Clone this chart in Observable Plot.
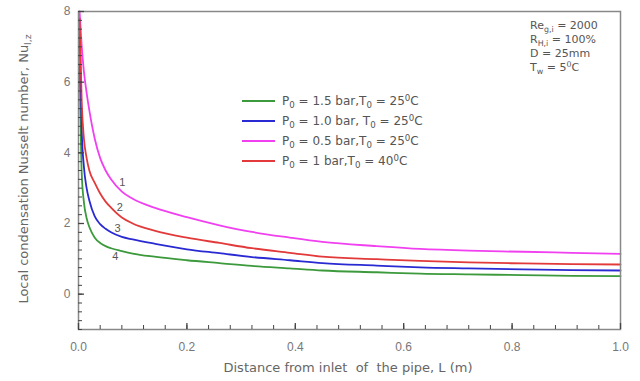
<!DOCTYPE html>
<html><head><meta charset="utf-8">
<script src="https://cdn.jsdelivr.net/npm/d3@7"></script>
<script src="https://cdn.jsdelivr.net/npm/@observablehq/plot@0.6"></script>
<style>body{margin:0;background:#fff;} #chart{width:640px;height:381px;}</style>
</head><body><div id="chart"></div>
<script>
// Distance from inlet L (m)
const L = [0.002, 0.006, 0.01, 0.015, 0.02, 0.03, 0.04, 0.05, 0.06, 0.08, 0.1, 0.14, 0.2, 0.26, 0.32, 0.39, 0.45, 0.55, 0.63, 0.72, 0.82, 0.91, 1.0];
// Local condensation Nusselt number per case
const nuP15 = [6.5, 3.4, 2.6, 2.15, 1.9, 1.6, 1.45, 1.36, 1.3, 1.22, 1.15, 1.06, 0.96, 0.88, 0.8, 0.73, 0.67, 0.62, 0.58, 0.56, 0.54, 0.52, 0.51];   // curve 4
const nuP10 = [7.5, 4.6, 3.6, 3.0, 2.65, 2.2, 1.98, 1.85, 1.75, 1.62, 1.55, 1.43, 1.27, 1.16, 1.05, 0.96, 0.88, 0.81, 0.76, 0.73, 0.7, 0.68, 0.67];   // curve 3
const nuP05 = [8.0, 7.0, 6.3, 5.7, 5.2, 4.4, 3.85, 3.5, 3.25, 2.9, 2.7, 2.45, 2.18, 1.95, 1.76, 1.6, 1.48, 1.36, 1.28, 1.23, 1.2, 1.17, 1.14];      // curve 1
const nuP1T40 = [7.8, 5.4, 4.4, 3.85, 3.5, 3.15, 2.85, 2.62, 2.45, 2.17, 2.0, 1.8, 1.6, 1.45, 1.3, 1.17, 1.06, 0.99, 0.94, 0.9, 0.87, 0.85, 0.84]; // curve 2

const seriesKeys = ["p15", "p10", "p05", "p1t40"];
const seriesColors = ["#3c9a3c", "#2a2ad2", "#f040f0", "#e23a3a"];
const legendP = ["1.5", "1.0", "0.5", "1"];
const legendSep = [",", ", ", ",", ","];
const legendT = ["25", "25", "25", "40"];

const xTicks = [0, 0.2, 0.4, 0.6, 0.8, 1.0];
const yTicks = [0, 2, 4, 6, 8];

const curveLabels = ["1", "2", "3", "4"];
const curveLabelL = [0.081, 0.076, 0.072, 0.068];
const curveLabelNu = [3.15, 2.44, 1.87, 1.08];

const seriesValues = [nuP15, nuP10, nuP05, nuP1T40];
const rows = [];
seriesKeys.forEach((k, s) => L.forEach((l, i) => rows.push({key: k, L: l, nu: seriesValues[s][i]})));

const W = 640, H = 381, mL = 78, mR = 20, mT = 11, mB = 52;
const plotW = W - mL - mR, plotH = H - mT - mB;
const xMinor = d3.range(0, 1.0001, 0.04);
const yMinor = d3.range(-1, 8.0001, 0.25);

const chart = Plot.plot({
  width: W, height: H,
  marginLeft: mL, marginRight: mR, marginTop: mT, marginBottom: mB,
  style: {fontFamily: "'Liberation Sans', Arial, sans-serif", fontSize: "12px", color: "#777", background: "#fff"},
  x: {domain: [0, 1]},
  y: {domain: [-1, 8]},
  color: {domain: seriesKeys, range: seriesColors},
  marks: [
    Plot.line(rows, {x: "L", y: "nu", z: "key", stroke: "key", strokeWidth: 1.8, curve: "monotone-x"}),
    Plot.frame({stroke: "#888", strokeWidth: 1.5}),
    Plot.tickX(xMinor, {x: d => d, stroke: "#444", strokeWidth: 1, insetTop: plotH - 4}),
    Plot.tickX(xTicks, {x: d => d, stroke: "#444", strokeWidth: 1.3, insetTop: plotH - 6}),
    Plot.tickY(yMinor, {y: d => d, stroke: "#444", strokeWidth: 1, insetRight: plotW - 4}),
    Plot.tickY(yTicks, {y: d => d, stroke: "#444", strokeWidth: 1.3, insetRight: plotW - 6}),
    Plot.axisX(xTicks, {tickSize: 0, tickPadding: 13, tickFormat: d3.format(".1f"), label: null, fill: "#777"}),
    Plot.axisY(yTicks, {tickSize: 0, tickPadding: 8, label: null, fill: "#777"}),
    Plot.text(curveLabels, {x: (d, i) => curveLabelL[i], y: (d, i) => curveLabelNu[i], text: d => d, fill: "#555", fontSize: 11})
  ]
});
document.getElementById("chart").appendChild(chart);

const svg = d3.select(chart);
function richText(g, x, y, parts, opts) {
  const t = g.append("text").attr("x", x).attr("y", y)
    .attr("fill", opts.fill || "#555").attr("font-size", opts.size)
    .attr("font-family", "'DejaVu Sans', sans-serif")
    .attr("text-anchor", opts.anchor || "start");
  if (opts.transform) t.attr("transform", opts.transform);
  let shift = 0;
  parts.forEach(([s, kind]) => {
    const want = kind === "sub" ? 3 : kind === "sup" ? -4 : 0;
    const ts = t.append("tspan").text(s).attr("dy", want - shift);
    if (kind) ts.attr("font-size", opts.size * 0.72);
    shift = want;
  });
  return t;
}

// axis titles
richText(svg, 348, 372, [["Distance from inlet  of  the pipe, L (m)"]], {size: 13, fill: "#666", anchor: "middle"});
richText(svg, 0, 0, [["Local condensation Nusselt number, Nu"], ["l,z", "sub"]],
  {size: 13, fill: "#666", anchor: "middle", transform: "translate(28,169) rotate(-90)"});

// legend
const lg = svg.append("g");
seriesKeys.forEach((k, i) => {
  const y = 101 + i * 20;
  lg.append("line").attr("x1", 242).attr("x2", 275).attr("y1", y).attr("y2", y)
    .attr("stroke", seriesColors[i]).attr("stroke-width", 2);
  richText(lg, 282, y + 4, [["P"], ["0", "sub"], [" = " + legendP[i] + " bar" + legendSep[i] + "T"], ["0", "sub"], [" = " + legendT[i]], ["0", "sup"], ["C"]],
    {size: 12, fill: "#555"});
});

// conditions
const notes = [
  [["Re"], ["g,i", "sub"], [" = 2000"]],
  [["R"], ["H,i", "sub"], [" = 100%"]],
  [["D = 25mm"]],
  [["T"], ["w", "sub"], [" = 5"], ["0", "sup"], ["C"]]
];
notes.forEach((p, i) => richText(svg, 530, 29 + i * 14, p, {size: 11, fill: "#555"}));
</script>
</body></html>
